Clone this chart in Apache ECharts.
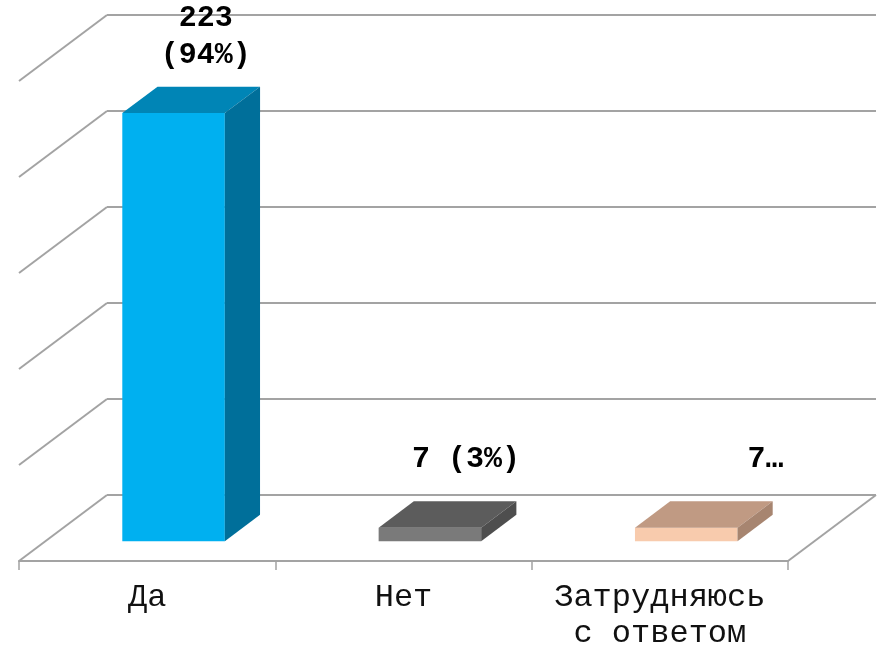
<!DOCTYPE html>
<html>
<head>
<meta charset="utf-8">
<script src="https://cdn.jsdelivr.net/npm/echarts@6/dist/echarts.min.js"></script>
<style>html,body{margin:0;padding:0;background:#fff}#c{width:879px;height:646px}</style>
</head>
<body>
<div id="c"></div>
<script>
const categories = ['Да', 'Нет', 'Затрудняюсь\nс ответом'];
const values = [223, 7, 7];
const valueLabels = ['223\n(94%)', '7 (3%)', '7…'];
const tickValues = [0, 50, 100, 150, 200, 250];

const FRONT = ['#00B0F0', '#7a7a7a', '#F8CBAD'];
const TOP = ['#0085B6', '#5c5c5c', '#C09A83'];
const SIDE = ['#006F9A', '#4e4e4e', '#A78570'];
const LABEL_POS = [[-3, -50], [1, -42], [44, -42]];
const DX = 88, DY = -66;
const GRID_COLOR = '#a3a3a3';
const FONT = '"Liberation Mono", "DejaVu Sans Mono", monospace';

const chart = echarts.init(document.getElementById('c'));
chart.setOption({
  animation: false,
  grid: { left: 19, right: 91, top: 81, bottom: 85, containLabel: false, outerBoundsMode: 'none' },
  xAxis: {
    type: 'category',
    data: categories,
    axisLine: { show: true, lineStyle: { color: GRID_COLOR, width: 2 } },
    axisTick: { show: true, length: 9, lineStyle: { color: GRID_COLOR, width: 1.5 } },
    axisLabel: { color: '#111', fontFamily: FONT, fontSize: 32, lineHeight: 36, margin: 19, interval: 0 },
    splitLine: { show: false }
  },
  yAxis: {
    type: 'value', min: 0, max: 250, interval: 50,
    axisLine: { show: false }, axisTick: { show: false }, axisLabel: { show: false },
    splitLine: { show: false }
  },
  series: [
    {
      type: 'custom',
      silent: true,
      z: 1,
      data: tickValues.map(v => [0, v]),
      renderItem: function (params, api) {
        const cs = params.coordSys;
        const v = api.value(1);
        const y = api.coord([0, v])[1];
        const x0 = cs.x, x1 = cs.x + cs.width;
        const style = { stroke: GRID_COLOR, lineWidth: 2, fill: null };
        const children = [
          { type: 'line', shape: { x1: x0 + DX, y1: y + DY, x2: x1 + DX, y2: y + DY }, style: style },
          { type: 'line', shape: { x1: x0, y1: y, x2: x0 + DX, y2: y + DY }, style: style }
        ];
        if (v === 0) {
          children.push({ type: 'line', shape: { x1: x1, y1: y, x2: x1 + DX, y2: y + DY }, style: style });
        }
        return { type: 'group', children: children };
      }
    },
    {
      type: 'custom',
      silent: true,
      z: 3,
      data: values.map((v, i) => [i, v]),
      renderItem: function (params, api) {
        const i = api.value(0);
        const top = api.coord([i, api.value(1)]);
        const base = api.coord([i, 0]);
        const bandW = api.size([1, 0])[0];
        const w = bandW * 0.4;
        const ox = DX * 0.3, oy = DY * 0.3;
        const dx = DX * 0.4, dy = DY * 0.4;
        const L = top[0] - w / 2 + ox, R = L + w;
        const T = top[1] + oy, B = base[1] + oy;
        const lp = LABEL_POS[i];
        return {
          type: 'group',
          children: [
            { type: 'rect', shape: { x: L, y: T, width: w, height: B - T }, style: { fill: FRONT[i] } },
            { type: 'polygon', shape: { points: [[L, T], [R, T], [R + dx, T + dy], [L + dx, T + dy]] }, style: { fill: TOP[i] } },
            { type: 'polygon', shape: { points: [[R, T], [R + dx, T + dy], [R + dx, B + dy], [R, B]] }, style: { fill: SIDE[i] } },
            {
              type: 'text',
              x: (L + R) / 2 + dx + lp[0],
              y: T + dy + lp[1],
              style: {
                text: valueLabels[i],
                fill: '#000',
                font: 'bold 30px ' + FONT,
                lineHeight: 37,
                align: 'center',
                verticalAlign: 'middle'
              }
            }
          ]
        };
      }
    }
  ]
});
</script>
</body>
</html>
